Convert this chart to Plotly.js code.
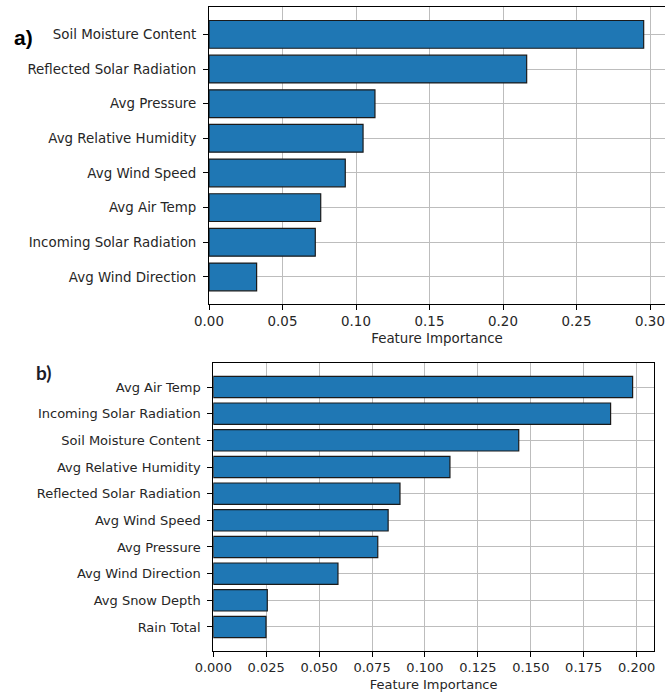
<!DOCTYPE html>
<html>
<head>
<meta charset="utf-8">
<script src="https://cdn.plot.ly/plotly-3.0.1.min.js"></script>
<style>
  html, body { margin: 0; padding: 0; background: #fff; }
  #chart { width: 665px; height: 693px; }
</style>
</head>
<body>
<div id="chart"></div>
<script>
// Panel a) feature importances, listed top to bottom
const featuresA = [
  'Soil Moisture Content', 'Reflected Solar Radiation', 'Avg Pressure',
  'Avg Relative Humidity', 'Avg Wind Speed', 'Avg Air Temp',
  'Incoming Solar Radiation', 'Avg Wind Direction'
];
const importanceA = [0.2957, 0.2161, 0.1129, 0.1048, 0.0927, 0.0760, 0.0723, 0.0324];

// Panel b) feature importances, listed top to bottom
const featuresB = [
  'Avg Air Temp', 'Incoming Solar Radiation', 'Soil Moisture Content',
  'Avg Relative Humidity', 'Reflected Solar Radiation', 'Avg Wind Speed',
  'Avg Pressure', 'Avg Wind Direction', 'Avg Snow Depth', 'Rain Total'
];
const importanceB = [0.1981, 0.1877, 0.1443, 0.1118, 0.0882, 0.0826, 0.0777, 0.0589, 0.0255, 0.0249];

const ticksA = [0, 0.05, 0.10, 0.15, 0.20, 0.25, 0.30];
const tickTextA = ['0.00', '0.05', '0.10', '0.15', '0.20', '0.25', '0.30'];
const ticksB = [0, 0.025, 0.05, 0.075, 0.1, 0.125, 0.15, 0.175, 0.2];
const tickTextB = ['0.000', '0.025', '0.050', '0.075', '0.100', '0.125', '0.150', '0.175', '0.200'];

const barColor = '#1f77b4';
const edgeColor = '#1a1a1a';
const textColor = '#262626';
const fontA = { family: 'DejaVu Sans, sans-serif', size: 13.4, color: textColor };
const fontB = { family: 'DejaVu Sans, sans-serif', size: 13, color: textColor };

function barTrace(x, y, xa, ya) {
  return {
    type: 'bar', orientation: 'h', x: x, y: y,
    xaxis: xa, yaxis: ya, width: 0.8,
    marker: { color: barColor, line: { color: edgeColor, width: 1.2 } },
    hoverinfo: 'x+y'
  };
}

const data = [
  barTrace(importanceA, featuresA, 'x', 'y'),
  barTrace(importanceB, featuresB, 'x2', 'y2')
];

const W = 665, H = 693;
const gridColor = '#bdbdbd';

function xAxis(domain, range, ticks, texts, anchor, font) {
  return {
    domain: domain, range: range, anchor: anchor,
    tickvals: ticks, ticktext: texts,
    showgrid: true, gridcolor: gridColor, gridwidth: 1,
    zeroline: false,
    showline: true, linecolor: '#000', linewidth: 1, mirror: true,
    ticks: 'outside', ticklen: 5, tickcolor: '#000', tickwidth: 1,
    tickfont: font,
    title: { text: 'Feature Importance', font: font, standoff: 5 }
  };
}

function yAxis(domain, range, anchor, mirror, font) {
  return {
    domain: domain, range: range, anchor: anchor, type: 'category',
    showgrid: true, gridcolor: gridColor, gridwidth: 1,
    zeroline: false,
    showline: true, linecolor: '#000', linewidth: 1, mirror: mirror,
    ticks: 'outside', ticklen: 5, tickcolor: '#000', tickwidth: 1,
    ticklabelstandoff: 4,
    tickfont: font
  };
}

const layout = {
  width: W, height: H,
  margin: { l: 0, r: 0, t: 0, b: 0 },
  paper_bgcolor: '#fff', plot_bgcolor: '#fff',
  showlegend: false,
  bargap: 0,
  xaxis: xAxis([209 / W, 1], [0, (W - 209) / 1470], ticksA, tickTextA, 'y', fontA),
  yaxis: yAxis([1 - 304.3 / H, 1 - 7 / H], [7.79, -0.79], 'x', false, fontA),
  xaxis2: xAxis([213.3 / W, 654 / W], [0, 0.2082], ticksB, tickTextB, 'y2', fontB),
  yaxis2: yAxis([1 - 650.7 / H, 1 - 363.3 / H], [9.89, -0.89], 'x2', true, fontB),
  annotations: [
    { text: '<b>a)</b>', x: 12 / W, y: 1 - 37 / H, xref: 'paper', yref: 'paper',
      xanchor: 'left', yanchor: 'middle', showarrow: false,
      font: { family: 'Liberation Sans, Arial, sans-serif', size: 21, color: '#000' } },
    { text: '<b>b)</b>', x: 34 / W, y: 1 - 373 / H, xref: 'paper', yref: 'paper',
      xanchor: 'left', yanchor: 'middle', showarrow: false,
      font: { family: 'Lato, Open Sans, sans-serif', size: 19, color: '#1c1c28' } }
  ]
};

Plotly.newPlot('chart', data, layout, { staticPlot: true, displayModeBar: false });
</script>
</body>
</html>
